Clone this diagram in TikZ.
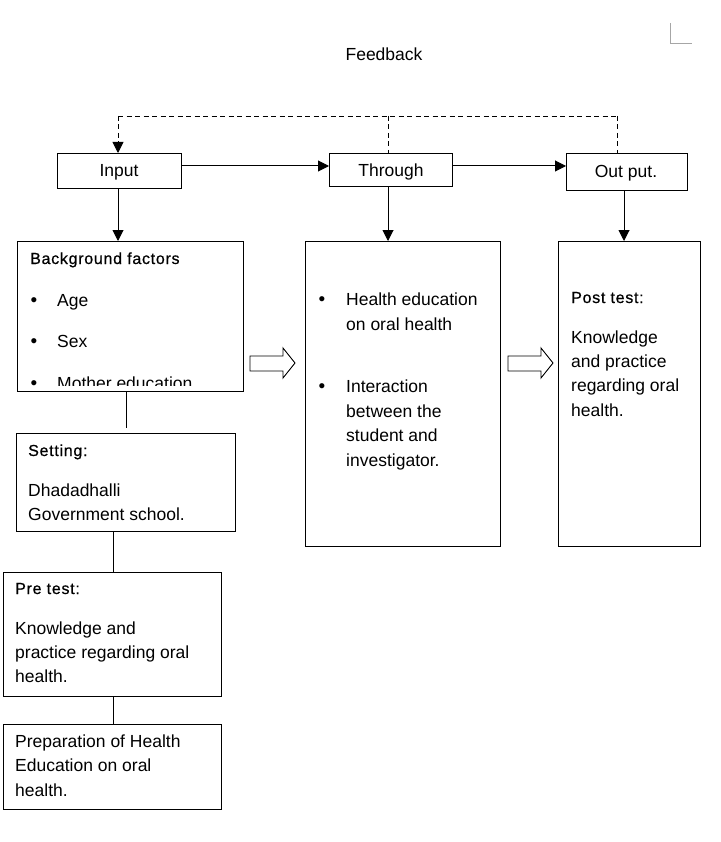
\documentclass[tikz,border=0pt]{standalone}
\usepackage{fontspec}
\setmainfont{Liberation Sans}
\newfontfamily\medfont[FakeBold=0.6,LetterSpace=4.5]{Liberation Sans}
\usetikzlibrary{arrows.meta}
\tikzset{
  box/.style={draw, line width=1pt, inner sep=0pt, anchor=north west},
  body/.style={inner sep=0pt, anchor=base west, font=\fontsize{17.5}{24}\selectfont},
  head/.style={inner sep=0pt, anchor=base west, font=\medfont\fontsize{16}{20}\selectfont},
  lab/.style={inner sep=0pt, anchor=base, font=\fontsize{17.5}{20}\selectfont},
  bul/.style={inner sep=0pt, anchor=base, font=\fontsize{19}{20}\selectfont},
  conn/.style={line width=1pt},
  arr/.style={line width=1pt, -{Triangle[length=11pt,width=11pt]}},
  fbline/.style={line width=0.9pt, dash pattern=on 5pt off 3.5pt},
  blockarrow/.style={draw, line width=0.9pt, fill=white}
}
\begin{document}
\begin{tikzpicture}[x=1pt,y=-1pt]
\useasboundingbox (0,0) rectangle (720,842);
% corner mark
\draw[gray!70, line width=0.9pt] (670,23) -- (670,43) -- (692,43);
\node[lab] (fb) at (384,61) {Feedback};
% top boxes
\node[box, minimum width=124pt, minimum height=35pt] (input) at (57,153) {};
\node[box, minimum width=123pt, minimum height=33pt] (thr) at (329,153) {};
\node[box, minimum width=121pt, minimum height=37pt] (out) at (566,153) {};
\node[lab] (inputT) at (119,177) {Input};
\node[lab] (thrT) at (391,177) {Through};
\node[lab] (outT) at (626,178) {Out put.};
% feedback dashed
\coordinate (f1) at (118,116);
\coordinate (f2) at (388,116);
\coordinate (f3) at (617,116);
\draw[fbline] (f1) -- (f3);
\draw[fbline, -{Triangle[length=11pt,width=11pt]}] (f1) -- (f1 |- input.north);
\draw[fbline] (f2) -- (f2 |- thr.north);
\draw[fbline] (f3) -- (f3 |- out.north);
% horizontal arrows
\draw[arr] (input.east |- 0,166) -- (thr.west |- 0,166);
\draw[arr] (thr.east |- 0,166) -- (out.west |- 0,166);
% big boxes
\node[box, minimum width=226pt, minimum height=150pt] (bg) at (17,241) {};
\node[box, minimum width=195pt, minimum height=305pt] (thb) at (305,241) {};
\node[box, minimum width=142pt, minimum height=305pt] (post) at (558,241) {};
\draw[arr] (input.south -| 118,0) -- (bg.north -| 118,0);
\draw[arr] (thr.south -| 388,0) -- (thb.north -| 388,0);
\draw[arr] (out.south -| 624,0) -- (post.north -| 624,0);
% background text
\node[head] (bgH) at (30,264) {Background factors};
\node[bul] (bgB1) at (34,306) {•};
\node[body] (bgT1) at (57,306) {Age};
\node[bul] (bgB2) at (34,347) {•};
\node[body] (bgT2) at (57,347) {Sex};
\begin{scope}
\clip (17,241) rectangle (243,385);
\node[bul] (bgB3) at (34,389) {•};
\node[body] (bgT3) at (57,389) {Mother education};
\end{scope}
% through text
\node[bul] (thB1) at (322,305) {•};
\node[body] (thT1) at (346,305) {Health education};
\node[body] (thT2) at (346,330) {on oral health};
\node[bul] (thB2) at (322,392) {•};
\node[body] (thT3) at (346,392) {Interaction};
\node[body] (thT4) at (346,417) {between the};
\node[body] (thT5) at (346,441) {student and};
\node[body] (thT6) at (346,466) {investigator.};
% post test text
\node[head] (poH) at (571,303) {Post test:};
\node[body] (poT1) at (571,343) {Knowledge};
\node[body] (poT2) at (571,367) {and practice};
\node[body] (poT3) at (571,391) {regarding oral};
\node[body] (poT4) at (571,416) {health.};
% block arrows
\draw[blockarrow] (250,356) -- (283,356) -- (283,348) -- (295,363) -- (283,378) -- (283,371) -- (250,371) -- cycle;
\draw[blockarrow] (508,356) -- (541,356) -- (541,348) -- (553,363) -- (541,378) -- (541,371) -- (508,371) -- cycle;
% left chain
\node[box, minimum width=219pt, minimum height=98pt] (set) at (16,433) {};
\node[box, minimum width=218pt, minimum height=124pt] (pre) at (3,572) {};
\node[box, minimum width=218pt, minimum height=85pt] (prep) at (3,724) {};
\coordinate (c1) at (126,428);
\draw[conn] (bg.south -| c1) -- (c1);
\draw[conn] (set.south -| 113,0) -- (pre.north -| 113,0);
\draw[conn] (pre.south -| 113,0) -- (prep.north -| 113,0);
\node[head] (seH) at (28,456) {Setting:};
\node[body] (seT1) at (28,496) {Dhadadhalli};
\node[body] (seT2) at (28,520) {Government school.};
\node[head] (prH) at (15,594) {Pre test:};
\node[body] (prT1) at (15,634) {Knowledge and};
\node[body] (prT2) at (15,658) {practice regarding oral};
\node[body] (prT3) at (15,682) {health.};
\node[body] (ppT1) at (15,747) {Preparation of Health};
\node[body] (ppT2) at (15,771) {Education on oral};
\node[body] (ppT3) at (15,796) {health.};
\end{tikzpicture}
\end{document}
